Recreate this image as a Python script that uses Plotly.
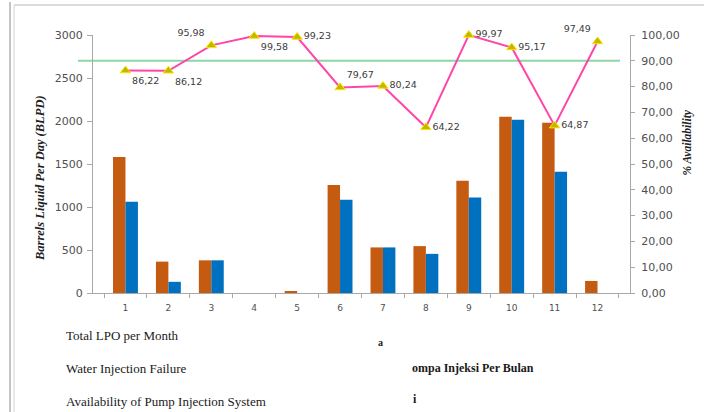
import plotly.graph_objects as go

# Monthly data (month index 1..12)
months = ["1", "2", "3", "4", "5", "6", "7", "8", "9", "10", "11", "12"]
total_lpo = [1580, 365, 380, 0, 15, 1255, 530, 545, 1305, 2050, 1980, 140]
water_inj_failure = [1060, 130, 380, 0, 0, 1085, 530, 455, 1110, 2015, 1410, 0]
availability = [86.22, 86.12, 95.98, 99.58, 99.23, 79.67, 80.24, 64.22, 99.97, 95.17, 64.87, 97.49]
availability_target = 90
label_positions = ["bottom right", "bottom right", "top left", "bottom right", "middle right",
                   "top right", "middle right", "middle right", "middle right", "middle right",
                   "middle right", "top left"]

left_ticks = [0, 500, 1000, 1500, 2000, 2500, 3000]
right_ticks = [0, 10, 20, 30, 40, 50, 60, 70, 80, 90, 100]

W, H = 704, 412
L, R, T, B = 93, 630, 35, 293  # plot box in pixels


def px(x):
    return (x - L) / (R - L)


def py(y):
    return (B - y) / (B - T)


tick_font = dict(family="DejaVu Sans", size=11, color="#505050")

fig = go.Figure()
fig.add_trace(go.Bar(x=months, y=total_lpo, name="Total LPO per Month",
                     marker=dict(color="#C55A11", line=dict(width=0))))
fig.add_trace(go.Bar(x=months, y=water_inj_failure, name="Water Injection Failure",
                     marker=dict(color="#0070C0", line=dict(width=0))))
fig.add_trace(go.Scatter(
    x=months, y=availability, yaxis="y2", name="Availability of Pump Injection System",
    mode="lines+markers+text",
    line=dict(color="#FF45A8", width=2),
    marker=dict(symbol="triangle-up", size=9, color="#BDB800",
                line=dict(color="#FFE400", width=1)),
    text=[f"{v:.2f}".replace(".", ",") for v in availability],
    textposition=label_positions,
    textfont=dict(family="DejaVu Sans", size=9.5, color="#3C3C3C"),
    cliponaxis=False,
))

shapes = [
    # availability target line
    dict(type="line", xref="paper", yref="y2", x0=px(78), x1=px(620),
         y0=availability_target, y1=availability_target,
         line=dict(color="#8ED6A6", width=2), layer="below"),
    # page frame
    dict(type="line", xref="paper", yref="paper", x0=px(10), x1=px(10), y0=py(2), y1=py(412),
         line=dict(color="#B0B0B0", width=1.5)),
    dict(type="line", xref="paper", yref="paper", x0=px(14), x1=px(14), y0=py(5), y1=py(412),
         line=dict(color="#D0D0D0", width=1)),
    dict(type="line", xref="paper", yref="paper", x0=px(14), x1=px(704), y0=py(5), y1=py(5),
         line=dict(color="#D0D0D0", width=1.5)),
]

serif = "Liberation Serif"
annotations = [
    dict(text="Barrels Liquid Per Day (BLPD)", xref="paper", yref="paper",
         x=px(31), y=py(178), textangle=-90, showarrow=False,
         font=dict(family=serif, size=12.5, color="#202020", style="italic", weight="bold")),
    dict(text="% Availability", xref="paper", yref="paper",
         x=px(695), y=py(143), textangle=-90, showarrow=False,
         font=dict(family=serif, size=11.5, color="#202020", style="italic", weight="bold")),
    dict(text="Total LPO per Month", xref="paper", yref="paper", x=px(64), y=py(335),
         xanchor="left", yanchor="middle", showarrow=False,
         font=dict(family=serif, size=13, color="#1A1A1A")),
    dict(text="Water Injection Failure", xref="paper", yref="paper", x=px(64), y=py(368),
         xanchor="left", yanchor="middle", showarrow=False,
         font=dict(family=serif, size=13, color="#1A1A1A")),
    dict(text="Availability of Pump Injection System", xref="paper", yref="paper", x=px(64), y=py(401),
         xanchor="left", yanchor="middle", showarrow=False,
         font=dict(family=serif, size=13, color="#1A1A1A")),
    dict(text="a", xref="paper", yref="paper", x=px(376), y=py(342),
         xanchor="left", yanchor="middle", showarrow=False,
         font=dict(family=serif, size=10, color="#1A1A1A", weight="bold")),
    dict(text="ompa Injeksi Per Bulan", xref="paper", yref="paper", x=px(410), y=py(368),
         xanchor="left", yanchor="middle", showarrow=False,
         font=dict(family=serif, size=12, color="#1A1A1A", weight="bold")),
    dict(text="i", xref="paper", yref="paper", x=px(411), y=py(399),
         xanchor="left", yanchor="middle", showarrow=False,
         font=dict(family=serif, size=12, color="#1A1A1A", weight="bold")),
]

fig.update_layout(
    width=W, height=H,
    margin=dict(l=L, r=W - R, t=T, b=H - B, pad=0),
    paper_bgcolor="white", plot_bgcolor="white",
    showlegend=False,
    barmode="group", bargap=0.42, bargroupgap=0,
    separators=",.",
    xaxis=dict(type="category", showgrid=False, showline=True, linecolor="#A8A8A8", linewidth=1,
               ticks="outside", tickson="boundaries", ticklen=4, tickcolor="#A8A8A8",
               ticklabelstandoff=6,
               tickfont=dict(family="DejaVu Sans", size=9, color="#505050")),
    yaxis=dict(range=[0, 3000], tickvals=left_ticks, showgrid=False, zeroline=False,
               showline=True, linecolor="#A8A8A8", linewidth=1,
               ticks="outside", ticklen=5, tickcolor="#A8A8A8", tickfont=tick_font,
               ticklabelstandoff=2),
    yaxis2=dict(range=[0, 100], tickvals=right_ticks, tickformat=".2f", overlaying="y",
                side="right", showgrid=False, zeroline=False,
                showline=True, linecolor="#A8A8A8", linewidth=1,
                ticks="outside", ticklen=4, tickcolor="#A8A8A8", tickfont=tick_font,
                ticklabelstandoff=4),
    shapes=shapes,
    annotations=annotations,
)

fig.write_html("out.html")
